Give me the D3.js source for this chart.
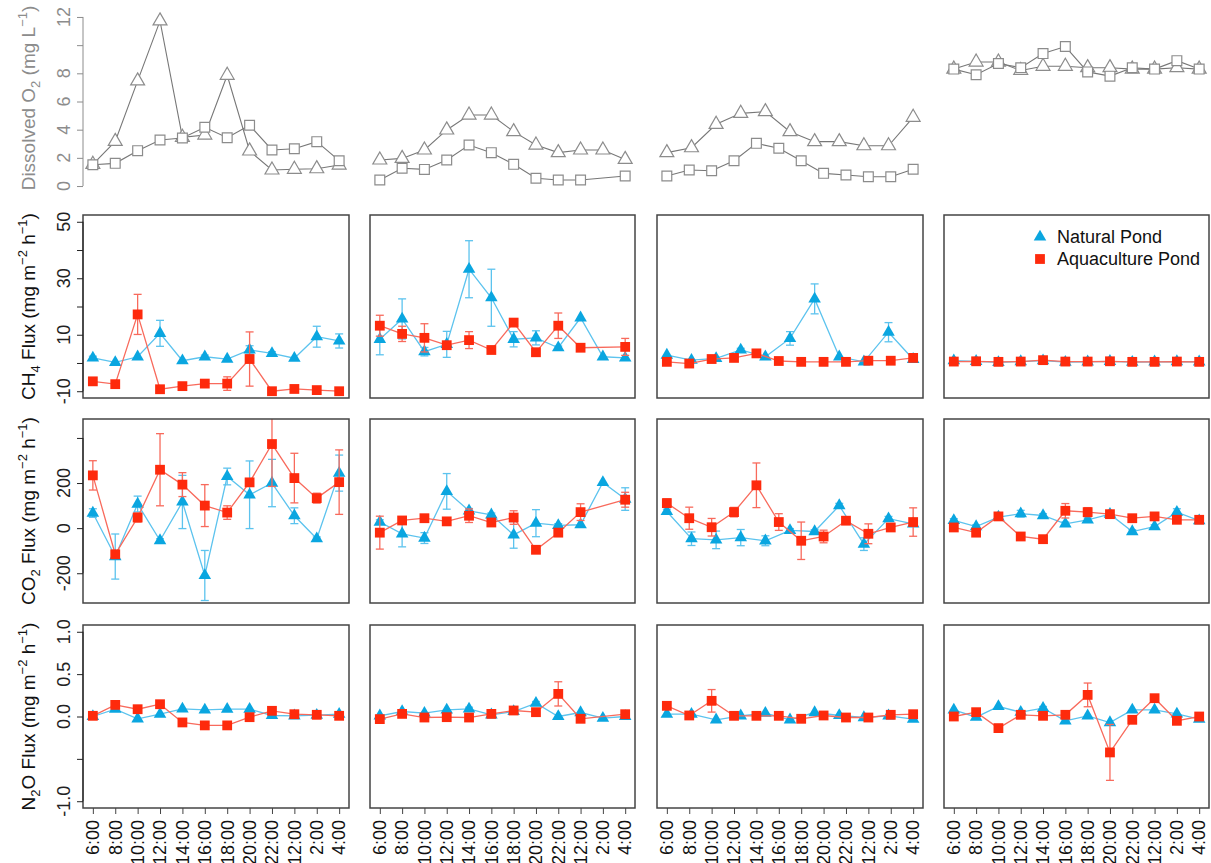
<!DOCTYPE html>
<html><head><meta charset="utf-8">
<script src="https://cdn.jsdelivr.net/npm/d3@7"></script>
<style>
body{margin:0;background:#fff}
text{font-family:"Liberation Sans",Arial,Helvetica,sans-serif}
</style>
</head><body>
<svg id="c" width="1211" height="863"></svg>
<script>
// ---------------- DATA ----------------
const timeLabels = ["6:00","8:00","10:00","12:00","14:00","16:00","18:00","20:00","22:00","12:00","2:00","4:00"];
const xFull = [1,2,3,4,5,6,7,8,9,10,11,12];
const xEleven = [1,2.1,3.2,4.3,5.4,6.5,7.6,8.7,9.8,10.9,12];
// x positions for the natural pond in each column (column 3 has 11 samples)
const natX = [xFull, xFull, xEleven, xFull];
const aquX = [xFull, xFull, xFull, xFull];

// Dissolved O2 (mg/L) : triangles (natural), squares (aquaculture)
const doNatural = [
  [1.54,3.17,7.46,11.72,3.46,3.62,7.86,2.49,1.14,1.19,1.23,1.49],
  [1.85,1.96,2.56,3.98,5.04,5.04,3.86,2.91,2.37,2.56,2.56,1.89],
  [2.37,2.72,4.38,5.16,5.28,3.86,3.15,3.15,2.86,2.86,4.88],
  [8.3,8.8,8.8,8.2,8.5,8.5,8.4,8.4,8.3,8.3,8.4,8.3]
];
const doAquaculture = [
  [1.51,1.61,2.51,3.27,3.41,4.17,3.43,4.31,2.56,2.65,3.15,1.80],
  [0.43,1.26,1.18,1.85,2.91,2.37,1.54,0.55,0.43,0.43,null,0.71],
  [0.71,1.14,1.09,1.80,3.03,2.68,1.80,0.90,0.78,0.66,0.66,1.19],
  [8.3,7.9,8.7,8.4,9.4,9.9,8.1,7.8,8.4,8.3,8.9,8.3]
];

// CH4 flux
const ch4Natural = [
  [1.8,0.2,2.2,10.5,0.8,2.2,1.4,4.6,3.4,1.7,9.3,7.8],
  [8.4,15.6,4.0,6.6,33.2,23.1,8.4,8.9,5.4,16.0,2.2,1.8],
  [2.8,1.0,1.6,4.6,2.2,8.7,22.7,2.2,0.4,10.9,1.3],
  [0.8,0.6,0.2,0.5,0.8,0.3,0.4,0.6,0.3,0.4,0.5,0.4]
];
const ch4NaturalErr = [
  [0.6,0.3,0.5,4.6,0.4,0.6,0.5,1.5,0.6,0.3,3.7,2.5],
  [5.5,7.1,1.5,4.6,10.1,10.1,2.7,2.5,0.6,0.5,0.5,0.4],
  [0.5,0.3,0.4,0.6,0.4,2.4,5.3,0.5,0.3,3.4,0.4],
  [0.2,0.2,0.2,0.2,0.3,0.2,0.2,0.2,0.2,0.2,0.2,0.2]
];
const ch4Aquaculture = [
  [-6.5,-7.5,17.2,-9.3,-8.2,-7.3,-7.3,1.4,-10.0,-9.2,-9.6,-10.0],
  [13.2,10.3,8.9,6.3,8.1,4.6,14.3,3.8,13.2,5.4,null,5.7],
  [0.4,-0.2,1.4,1.8,3.4,0.7,0.4,0.4,0.4,0.8,0.8,1.8],
  [0.5,0.6,0.4,0.5,1.0,0.5,0.5,0.6,0.4,0.4,0.5,0.4]
];
const ch4AquacultureErr = [
  [1.0,0.5,7.1,0.5,0.5,0.5,2.4,9.6,0.3,0.5,0.3,0.3],
  [3.7,2.7,5.0,1.0,3.0,0.3,0.5,0.3,4.5,0.3,null,3.0],
  [0.3,0.3,0.3,0.3,0.3,0.3,0.3,0.3,0.3,0.3,0.3,0.3],
  [0.2,0.2,0.2,0.2,0.3,0.2,0.2,0.2,0.2,0.2,0.2,0.2]
];

// CO2 flux
const co2Natural = [
  [67,-126,107,-55,116,-210,229,148,200,55,-47,244],
  [27,-25,-44,163,77,59,-30,22,12,15,203,129],
  [74,-47,-52,-42,-56,-10,-15,100,-71,42,19],
  [34,7,49,64,56,19,37,62,-15,7,71,33]
];
const co2NaturalErr = [
  [19,100,35,8,118,111,37,150,105,35,8,80],
  [10,58,24,79,10,8,59,60,8,5,5,50],
  [10,30,39,36,22,8,8,10,28,10,5],
  [8,8,8,15,8,8,8,8,8,8,15,10]
];
const co2Aquaculture = [
  [234,-116,47,259,193,100,69,203,373,222,133,204],
  [-20,34,44,30,55,25,47,-96,-20,71,null,126],
  [111,44,4,71,190,27,-56,-37,33,-25,3,27],
  [3,-20,52,-37,-49,77,71,62,44,52,37,37]
];
const co2AquacultureErr = [
  [65,15,20,160,53,93,30,10,188,110,22,143],
  [73,8,12,12,30,5,30,5,8,37,null,33],
  [19,49,39,21,99,37,83,28,5,44,17,63],
  [15,8,8,15,8,32,20,8,8,8,8,15]
];

// N2O flux
const n2oNatural = [
  [0.0,0.086,-0.027,0.027,0.09,0.078,0.086,0.086,0.012,0.008,0.016,0.027],
  [0.008,0.059,0.04,0.078,0.09,0.02,0.059,0.157,0.0,0.047,-0.02,0.0],
  [0.027,0.027,-0.039,0.008,0.04,-0.039,0.047,0.012,-0.012,0.008,-0.031],
  [0.078,-0.008,0.118,0.051,0.098,-0.051,0.008,-0.071,0.078,0.078,0.031,-0.031]
];
const n2oNaturalErr = [
  [0.01,0.01,0.01,0.01,0.01,0.01,0.01,0.01,0.01,0.01,0.01,0.01],
  [0.01,0.01,0.01,0.01,0.02,0.01,0.01,0.02,0.01,0.01,0.01,0.01],
  [0.01,0.01,0.01,0.01,0.01,0.01,0.01,0.01,0.01,0.01,0.01],
  [0.01,0.01,0.01,0.01,0.02,0.02,0.01,0.01,0.01,0.01,0.01,0.01]
];
const n2oAquaculture = [
  [0.008,0.137,0.086,0.145,-0.07,-0.105,-0.105,-0.008,0.067,0.027,0.02,0.008],
  [-0.031,0.031,-0.012,-0.008,-0.012,0.031,0.071,0.051,0.267,-0.027,null,0.027],
  [0.126,0.012,0.185,0.008,0.008,0.008,-0.027,0.012,-0.012,-0.012,0.02,0.027],
  [0.0,0.051,-0.137,0.02,0.008,0.02,0.255,-0.424,-0.039,0.216,-0.051,0.0]
];
const n2oAquacultureErr = [
  [0.01,0.01,0.01,0.01,0.01,0.01,0.01,0.01,0.01,0.01,0.01,0.01],
  [0.01,0.01,0.01,0.01,0.01,0.01,0.01,0.01,0.143,0.01,null,0.01],
  [0.01,0.01,0.133,0.01,0.01,0.01,0.01,0.01,0.01,0.01,0.01,0.01],
  [0.01,0.01,0.01,0.01,0.01,0.01,0.14,0.33,0.01,0.02,0.01,0.01]
];

const seriesNames = ["Natural Pond","Aquaculture Pond"];

// ---------------- LAYOUT ----------------
const svg = d3.select("#c");
const cols = [[83,349],[370,635],[657,923],[944,1209]];
const rows = {
  o2:  [10.2,192.8],
  ch4: [215,398],
  co2: [419,603],
  n2o: [625,808]
};
const natColor = "#0aa6e0", natLine = "#5cc3ee";
const aquColor = "#fe2a0c", aquLine = "#f86a5c";
const doColor = "#8c8c8c", doLine = "#777";
const frameColor = "#444";

const xDomain = [0.56, 12.44];
const triSym = d3.symbol().type(d3.symbolTriangle).size(68);
const sqSym = d3.symbol().type(d3.symbolSquare).size(96);
const triOpen = d3.symbol().type(d3.symbolTriangle).size(84);
const sqOpen = d3.symbol().type(d3.symbolSquare).size(96);

let clipId = 0;
function makeClip(x0,y0,x1,y1){
  const id = "clip"+(clipId++);
  svg.append("clipPath").attr("id",id).append("rect")
    .attr("x",x0).attr("y",y0).attr("width",x1-x0).attr("height",y1-y0);
  return "url(#"+id+")";
}

function drawSeries(g, x, y, xs, vals, errs, color, lineColor, sym){
  const pts = vals.map((v,i)=>({x:xs[i], v:v, e: errs ? errs[i] : null})).filter(d=>d.v!=null);
  const line = d3.line().x(d=>x(d.x)).y(d=>y(d.v));
  g.append("path").datum(pts).attr("d",line).attr("fill","none")
    .attr("stroke",lineColor).attr("stroke-width",1.3);
  if (errs){
    const eb = g.append("g").attr("stroke",lineColor).attr("stroke-width",1.3);
    pts.filter(d=>d.e!=null && Math.abs(y(d.v-d.e)-y(d.v+d.e))>3).forEach(d=>{
      const cx = x(d.x), ylo = y(d.v-d.e), yhi = y(d.v+d.e);
      eb.append("line").attr("x1",cx).attr("x2",cx).attr("y1",ylo).attr("y2",yhi);
      eb.append("line").attr("x1",cx-4).attr("x2",cx+4).attr("y1",ylo).attr("y2",ylo);
      eb.append("line").attr("x1",cx-4).attr("x2",cx+4).attr("y1",yhi).attr("y2",yhi);
    });
  }
  g.selectAll(null).data(pts).enter().append("path")
    .attr("d",sym)
    .attr("transform",d=>`translate(${x(d.x)},${y(d.v)})`)
    .attr("fill",color);
}

function yAxis(y, ticks, labels, fmt, color){
  const g = svg.append("g").attr("transform",`translate(${cols[0][0]},0)`);
  g.call(d3.axisLeft(y).tickValues(ticks).tickSize(6).tickFormat(""));
  g.select(".domain").remove();
  g.selectAll(".tick line").attr("stroke",color).attr("stroke-width",1);
  g.append("line").attr("x1",0).attr("x2",0)
    .attr("y1",y(d3.min(ticks))).attr("y2",y(d3.max(ticks)))
    .attr("stroke",color).attr("stroke-width",1);
  labels.forEach(l=>{
    svg.append("text")
      .attr("transform",`translate(70,${y(l)}) rotate(-90)`)
      .attr("text-anchor","middle")
      .attr("font-size",18).attr("fill",color)
      .text(fmt(l).replace("\u2212","-"));
  });
}

function yTitle(parts, cy, color){
  const t = svg.append("text")
    .attr("transform",`translate(35,${cy}) rotate(-90)`)
    .attr("text-anchor","middle").attr("font-size",19).attr("fill",color);
  parts.forEach(p=>{
    const ts = t.append("tspan").text(p.t);
    if (p.sub){ ts.attr("font-size",13).attr("dy",5); }
    if (p.sup){ ts.attr("font-size",13).attr("dy",-8); }
    if (p.back){ ts.attr("dy",p.back); }
  });
}

// ---------------- DO ROW ----------------
const yDO = d3.scaleLinear().domain([-0.48,12.48]).range([rows.o2[1], rows.o2[0]]);
cols.forEach((c,ci)=>{
  const x = d3.scaleLinear().domain(xDomain).range(c);
  const g = svg.append("g");
  const line = d3.line().x(d=>x(d.x)).y(d=>yDO(d.v));
  [[doNatural, natX, triOpen],[doAquaculture, aquX, sqOpen]].forEach(([arr, xs, sym])=>{
    const pts = arr[ci].map((v,i)=>({x:xs[ci][i], v:v})).filter(d=>d.v!=null);
    g.append("path").datum(pts).attr("d",line).attr("fill","none")
      .attr("stroke",doLine).attr("stroke-width",1.1);
    g.selectAll(null).data(pts).enter().append("path")
      .attr("d",sym).attr("transform",d=>`translate(${x(d.x)},${yDO(d.v)})`)
      .attr("fill","#fff").attr("stroke",doColor).attr("stroke-width",1.2);
  });
});
yAxis(yDO,[0,2,4,6,8,10,12],[0,2,4,6,8,12],d3.format("d"),doColor);
yTitle([{t:"Dissolved O"},{t:"2",sub:true},{t:" (mg L",back:-5},{t:"−1",sup:true},{t:")",back:8}], 98, doColor);

// ---------------- FLUX ROWS ----------------
const fluxRows = [
  {key:"ch4", dom:[-12.4,52.4], ticks:[-10,0,10,20,30,40,50], labels:[-10,10,30,50], fmt:d3.format("d"),
   nat:ch4Natural, natE:ch4NaturalErr, aqu:ch4Aquaculture, aquE:ch4AquacultureErr,
   title:[{t:"CH"},{t:"4",sub:true},{t:" Flux (mg m",back:-5},{t:"−2",sup:true},{t:" h",back:8},{t:"−1",sup:true},{t:")",back:8}]},
  {key:"co2", dom:[-332,484], ticks:[-200,0,200,400], labels:[-200,0,200], fmt:d3.format("d"),
   nat:co2Natural, natE:co2NaturalErr, aqu:co2Aquaculture, aquE:co2AquacultureErr,
   title:[{t:"CO"},{t:"2",sub:true},{t:" Flux (mg m",back:-5},{t:"−2",sup:true},{t:" h",back:8},{t:"−1",sup:true},{t:")",back:8}]},
  {key:"n2o", dom:[-1.08,1.08], ticks:[-1,-0.5,0,0.5,1], labels:[-1,0,0.5,1], fmt:d3.format(".1f"),
   nat:n2oNatural, natE:n2oNaturalErr, aqu:n2oAquaculture, aquE:n2oAquacultureErr,
   title:[{t:"N"},{t:"2",sub:true},{t:"O Flux (mg m",back:-5},{t:"−2",sup:true},{t:" h",back:8},{t:"−1",sup:true},{t:")",back:8}]}
];

fluxRows.forEach(r=>{
  const [top,bot] = rows[r.key];
  const y = d3.scaleLinear().domain(r.dom).range([bot,top]);
  cols.forEach((c,ci)=>{
    const x = d3.scaleLinear().domain(xDomain).range(c);
    const g = svg.append("g").attr("clip-path", makeClip(c[0],top,c[1],bot));
    drawSeries(g, x, y, natX[ci], r.nat[ci], r.natE[ci], natColor, natLine, triSym);
    drawSeries(g, x, y, aquX[ci], r.aqu[ci], r.aquE[ci], aquColor, aquLine, sqSym);
    svg.append("rect").attr("x",c[0]).attr("y",top).attr("width",c[1]-c[0]).attr("height",bot-top)
      .attr("fill","none").attr("stroke",frameColor).attr("stroke-width",1.5);
    if (r.key==="n2o"){
      const ax = svg.append("g").attr("transform",`translate(0,${bot})`)
        .call(d3.axisBottom(x).tickValues(xFull).tickSize(6).tickFormat(""));
      ax.select(".domain").remove();
      ax.selectAll(".tick line").attr("stroke",frameColor);
      xFull.forEach((xi,i)=>{
        svg.append("text")
          .attr("transform",`translate(${x(xi)},820) rotate(-90)`)
          .attr("text-anchor","end").attr("dy","0.35em")
          .attr("font-size",18).attr("fill","#111")
          .text(timeLabels[i]);
      });
    }
  });
  yAxis(y, r.ticks, r.labels, r.fmt, "#222");
  yTitle(r.title, (top+bot)/2, "#111");
});

// ---------------- LEGEND ----------------
const lg = svg.append("g");
lg.append("path").attr("d",triSym).attr("transform","translate(1040,237)").attr("fill",natColor);
lg.append("path").attr("d",sqSym).attr("transform","translate(1040,259)").attr("fill",aquColor);
lg.append("text").attr("x",1057).attr("y",243).attr("font-size",18).attr("fill","#111").text(seriesNames[0]);
lg.append("text").attr("x",1057).attr("y",265).attr("font-size",18).attr("fill","#111").text(seriesNames[1]);
</script>
</body></html>
